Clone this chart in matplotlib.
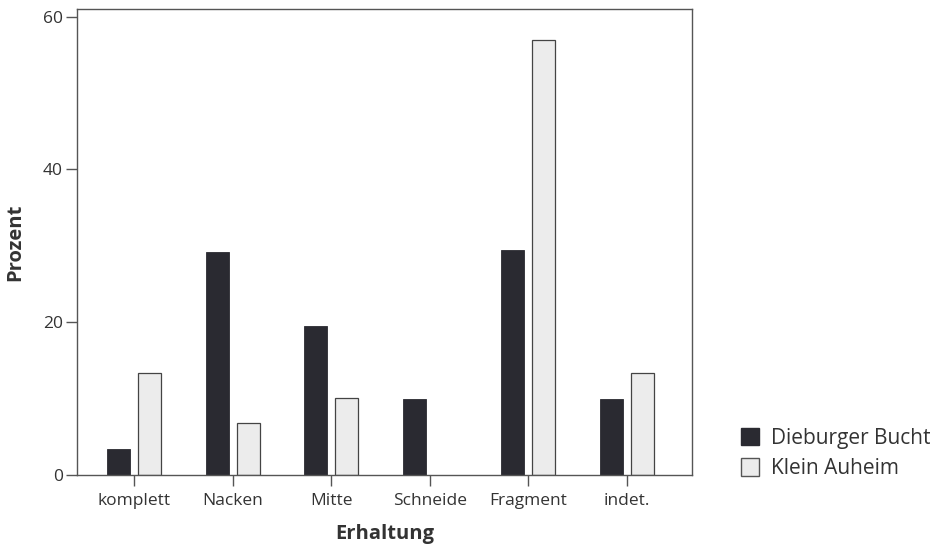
import numpy as np
import matplotlib
matplotlib.use('Agg')
import matplotlib.pyplot as plt
from matplotlib.patches import Patch

categories = ['komplett', 'Nacken', 'Mitte', 'Schneide', 'Fragment', 'indet.']
dieburger = [3.4, 29.2, 19.5, 10.0, 29.4, 10.0]
klein_auheim = [13.3, 6.8, 10.1, 0.0, 57.0, 13.4]
series_names = ['Dieburger Bucht', 'Klein Auheim']

plt.rcParams['font.family'] = ['Open Sans', 'DejaVu Sans']
txt = '#333333'

fig = plt.figure(figsize=(9.33, 5.45), dpi=100)
ax = fig.add_axes([0.0825, 0.1284, 0.659, 0.855])

x = np.arange(len(categories))
w = 0.235
off = 0.157
ax.bar(x - off, dieburger, w, color='#2a2a31', edgecolor='#2a2a31', linewidth=0.6)
# no outline for empty bars (Schneide has none)
lw = [0.9 if v > 0 else 0 for v in klein_auheim]
ax.bar(x + off, klein_auheim, w, color='#ececec', edgecolor='#444444', linewidth=lw)

ax.set_xlim(-0.58, 5.66)
ax.set_ylim(0, 61)
ax.set_yticks([0, 20, 40, 60])
ax.set_xticks(x)
ax.set_xticklabels(categories)

for s in ax.spines.values():
    s.set_color('#555555')
    s.set_linewidth(1.0)
ax.tick_params(axis='both', colors='#555555', labelcolor=txt, labelsize=12.5, length=8, width=1.0)
ax.tick_params(axis='x', pad=5)
ax.tick_params(axis='y', pad=2)

ax.set_xlabel('Erhaltung', fontsize=14.5, fontweight='bold', color=txt, labelpad=11)
ax.set_ylabel('Prozent', fontsize=14.5, fontweight='bold', color=txt, labelpad=13)

handles = [Patch(facecolor='#2a2a31', edgecolor='#2a2a31'),
           Patch(facecolor='#ececec', edgecolor='#555555')]
leg = fig.legend(handles, series_names, loc='center left', bbox_to_anchor=(0.794, 0.168),
                 frameon=False, fontsize=15, handlelength=0.85, handleheight=0.9,
                 handletextpad=0.6, labelspacing=0.45, borderpad=0, borderaxespad=0)
for t in leg.get_texts():
    t.set_color(txt)

fig.savefig('out.png', dpi=100)
